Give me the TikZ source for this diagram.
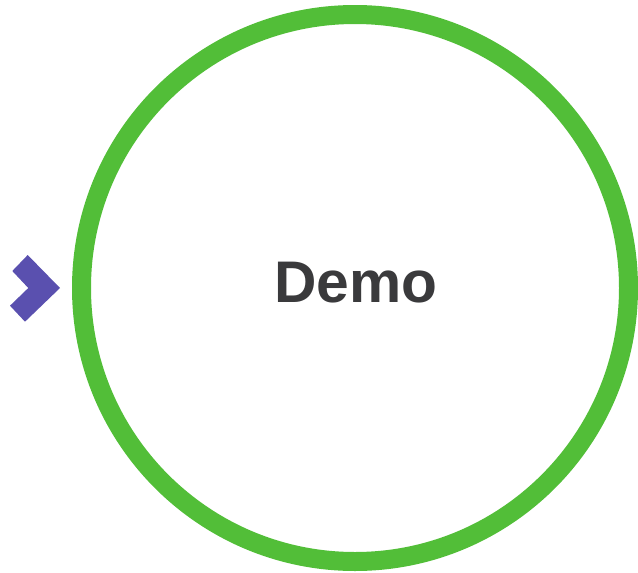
\documentclass[tikz,border=0pt]{standalone}
\usepackage{fontspec}
\setmainfont{Liberation Sans}
\definecolor{ringgreen}{HTML}{52BE38}
\definecolor{chevpurple}{HTML}{5A50AF}
\definecolor{textgray}{HTML}{3A3A3C}
\begin{document}
\begin{tikzpicture}[x=1pt,y=-1pt,
  ring/.style={draw=ringgreen,line width=19pt},
  chev/.style={fill=chevpurple},
  label/.style={text=textgray,font=\fontsize{58.7}{60}\selectfont\bfseries,inner sep=0pt,anchor=base}]
\useasboundingbox (0,0) rectangle (638,573);
\coordinate (c) at (355,288);
\draw[ring] (c) circle[radius=273.5];
\fill[chev] (27.7,255) -- (60,288) -- (25,321.7) -- (10,305.7) -- (28.3,288) -- (12.3,271) -- cycle;
\node[label] (t) at (356,302) {Demo};
\end{tikzpicture}
\end{document}
